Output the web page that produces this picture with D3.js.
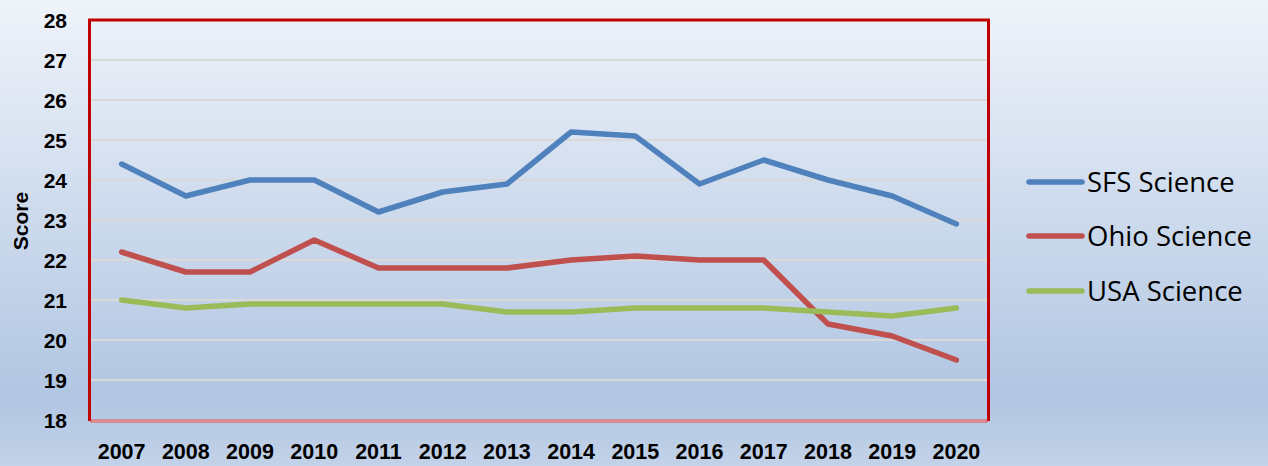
<!DOCTYPE html>
<html>
<head>
<meta charset="utf-8">
<script src="https://cdn.jsdelivr.net/npm/d3@7"></script>
<style>
html,body{margin:0;padding:0;}
svg{display:block;}
</style>
</head>
<body>
<svg id="chart" width="1268" height="466"></svg>
<script>
const years = ["2007","2008","2009","2010","2011","2012","2013","2014","2015","2016","2017","2018","2019","2020"];
const sfsScience  = [24.4,23.6,24.0,24.0,23.2,23.7,23.9,25.2,25.1,23.9,24.5,24.0,23.6,22.9];
const ohioScience = [22.2,21.7,21.7,22.5,21.8,21.8,21.8,22.0,22.1,22.0,22.0,20.4,20.1,19.5];
const usaScience  = [21.0,20.8,20.9,20.9,20.9,20.9,20.7,20.7,20.8,20.8,20.8,20.7,20.6,20.8];
const seriesNames = ["SFS Science","Ohio Science","USA Science"];
const yTicks = [18,19,20,21,22,23,24,25,26,27,28];
const yTitle = "Score";

const series = [
  {name: seriesNames[0], values: sfsScience,  color: "#4f81bd"},
  {name: seriesNames[1], values: ohioScience, color: "#c0504d"},
  {name: seriesNames[2], values: usaScience,  color: "#9bbb59"}
];

const W = 1268, H = 466;
const plot = {left: 89.5, right: 988.5, top: 20, bottom: 420};
const svg = d3.select("#chart");
const font = "'Liberation Sans', Arial, sans-serif";
const legFont = "'Open Sans', 'Noto Sans', sans-serif";

// background gradient
const defs = svg.append("defs");
const grad = defs.append("linearGradient").attr("id","bg").attr("x1",0).attr("y1",0).attr("x2",0).attr("y2",1);
[[0,"#eff3fa"],[0.45,"#cedbed"],[0.85,"#b1c6e2"],[1,"#c2d2e8"]].forEach(s=>{
  grad.append("stop").attr("offset",s[0]).attr("stop-color",s[1]);
});
svg.append("rect").attr("width",W).attr("height",H).attr("fill","url(#bg)");

const x = d3.scaleBand().domain(years).range([plot.left, plot.right]);
const y = d3.scaleLinear().domain([18,28]).range([plot.bottom, plot.top]);
const cx = d => x(d) + x.bandwidth()/2;

// gridlines
svg.append("g").selectAll("line").data(yTicks.filter(t=>t>18 && t<28)).join("line")
  .attr("x1", plot.left).attr("x2", plot.right)
  .attr("y1", d=>y(d)).attr("y2", d=>y(d))
  .attr("stroke","#d9d9d9").attr("stroke-width",2);

// y axis labels
const yAxis = d3.axisLeft(y).tickValues(yTicks).tickSize(0).tickPadding(0).tickFormat(d3.format("d"));
const gy = svg.append("g").attr("transform",`translate(67,0)`).call(yAxis);
gy.select(".domain").remove();
gy.selectAll("text").attr("font-family",font).attr("font-weight","bold").attr("font-size",21).attr("fill","#000").attr("dy","0.36em");

// x axis labels
const xAxis = d3.axisBottom(x).tickSize(0).tickPadding(0);
const gx = svg.append("g").attr("transform",`translate(0,444)`).call(xAxis);
gx.select(".domain").remove();
gx.selectAll("text").attr("font-family",font).attr("font-weight","bold").attr("font-size",21.5).attr("fill","#000").attr("dy","0.72em");

// y title
svg.append("text").attr("transform",`translate(28,221) rotate(-90)`)
  .attr("text-anchor","middle").attr("font-family",font).attr("font-weight","bold").attr("font-size",21)
  .text(yTitle);

// lines
const line = d3.line().x((d,i)=>cx(years[i])).y(d=>y(d));
svg.append("g").selectAll("path").data(series).join("path")
  .attr("d", d=>line(d.values))
  .attr("fill","none").attr("stroke", d=>d.color).attr("stroke-width",5.5)
  .attr("stroke-linecap","round").attr("stroke-linejoin","round");

// plot border: top, left, right dark red; bottom light red double
svg.append("path")
  .attr("d", `M${plot.left},${plot.bottom+1}V${plot.top}H${plot.right}V${plot.bottom+1}`)
  .attr("fill","none").attr("stroke","#c00000").attr("stroke-width",3);
svg.append("line").attr("x1",plot.left+1).attr("x2",plot.right-1).attr("y1",plot.bottom+1).attr("y2",plot.bottom+1)
  .attr("stroke","#d65252").attr("stroke-width",3);
svg.append("line").attr("x1",plot.left+2).attr("x2",plot.right-2).attr("y1",plot.bottom+1).attr("y2",plot.bottom+1)
  .attr("stroke","#f0c4c4").attr("stroke-width",1);

// legend
const legY = [182,236,291];
const leg = svg.append("g").selectAll("g").data(series).join("g")
  .attr("transform",(d,i)=>`translate(0,${legY[i]})`);
leg.append("line").attr("x1",1029).attr("x2",1082).attr("y1",0).attr("y2",0)
  .attr("stroke",d=>d.color).attr("stroke-width",5.5).attr("stroke-linecap","round");
leg.append("text").attr("x",1087).attr("y",0).attr("dy","0.36em")
  .attr("font-family",legFont).attr("font-size",27.5).attr("fill","#000")
  .text(d=>d.name);
</script>
</body>
</html>
